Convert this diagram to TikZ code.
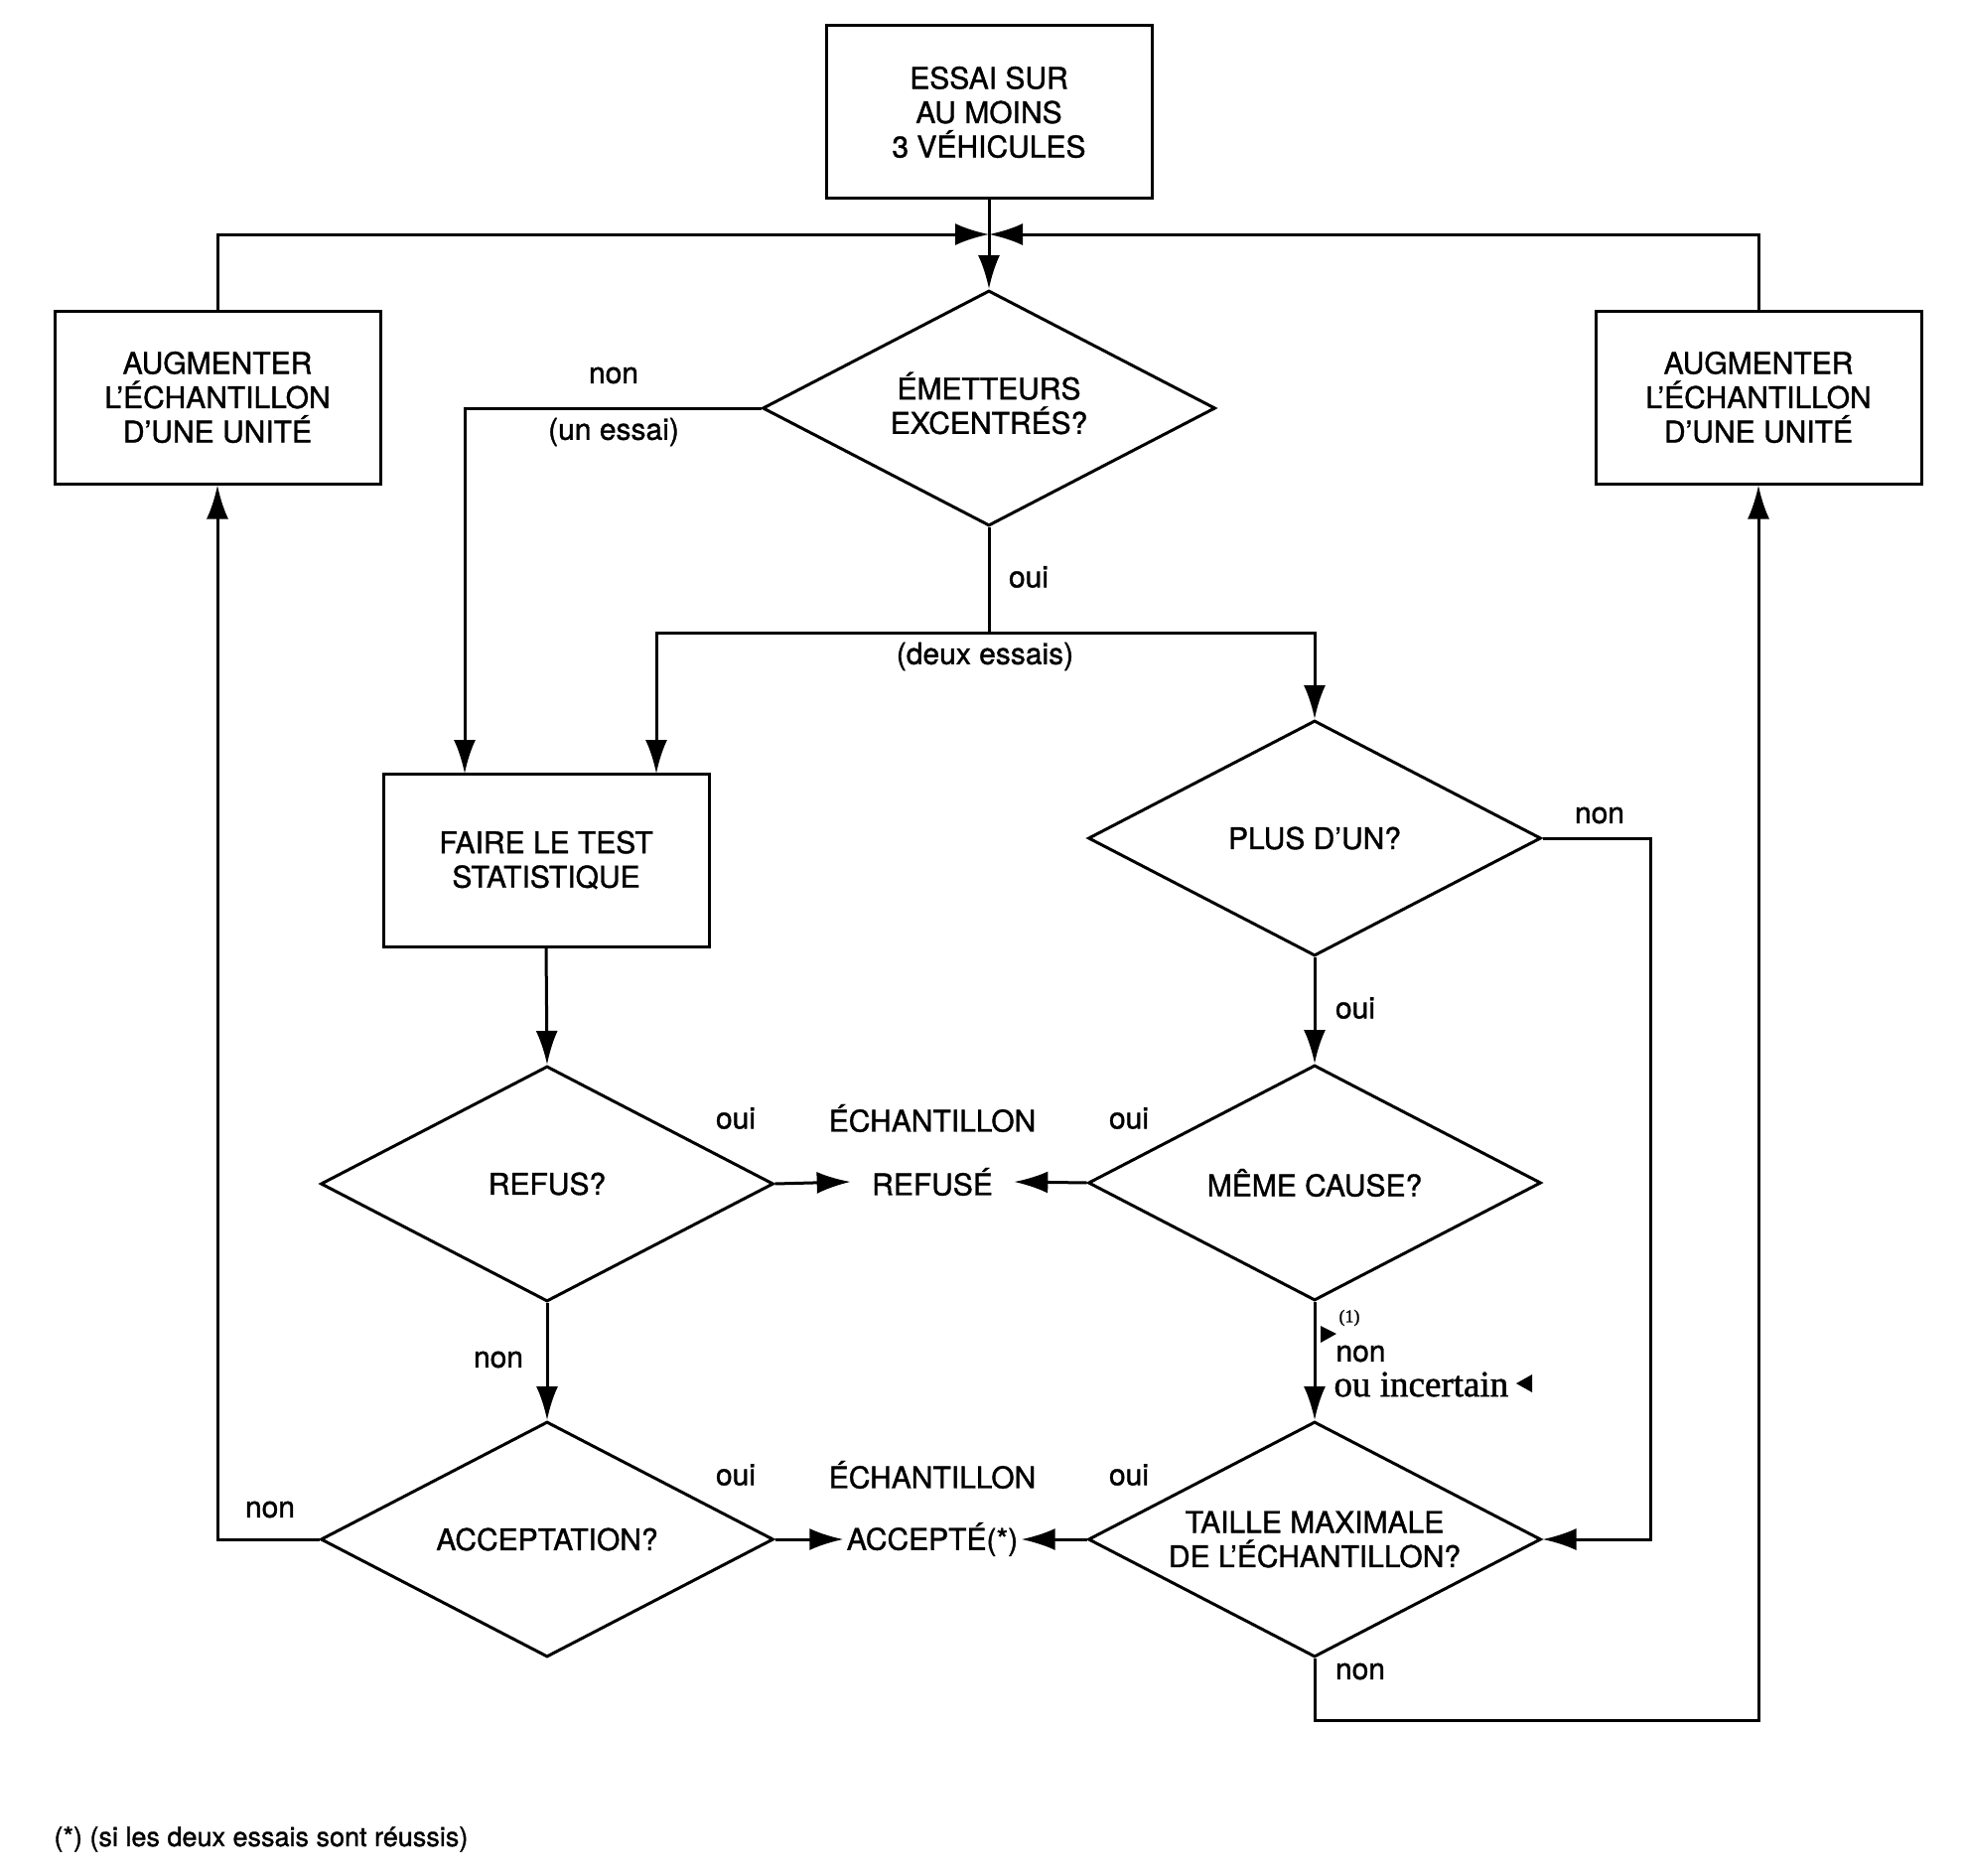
\documentclass[tikz,border=0pt]{standalone}
\usepackage{fontspec}
\setmainfont{TeX Gyre Heros}[FakeBold=1.2]
\newfontfamily\seriffont{Liberation Serif}[FakeBold=1.2]
\usetikzlibrary{shapes.geometric,arrows.meta}
\begin{document}
\begin{tikzpicture}[x=0.5pt,y=-0.5pt, line width=1.5pt,
  every node/.style={font=\fontsize{15}{17.3}\selectfont},
  box/.style={draw, rectangle, minimum width=164pt, minimum height=87pt, align=center, inner sep=0pt},
  dia/.style={draw, diamond, aspect=1.92, minimum width=228pt, minimum height=118.5pt, inner sep=0pt, align=center},
  lbl/.style={inner sep=0pt},
  arr/.style={-{Latex[length=17pt,width=11pt]}},
]
\useasboundingbox (0,0) rectangle (1977,1889);

% boxes
\node[box] (start) at (996,113) {ESSAI SUR\\AU MOINS\\3 VÉHICULES};
\node[box] (augL) at (219,400) {AUGMENTER\\L’ÉCHANTILLON\\D’UNE UNITÉ};
\node[box] (augR) at (1771,400) {AUGMENTER\\L’ÉCHANTILLON\\D’UNE UNITÉ};
\node[box] (test) at (550,866) {FAIRE LE TEST\\STATISTIQUE};

% diamonds
\node[dia] (emet) at (996,411) {};
\node[lbl, align=center] (emettxt) at (996,406) {ÉMETTEURS\\EXCENTRÉS?};
\node[dia] (plus) at (1324,844) {PLUS D’UN?};
\node[dia] (meme) at (1324,1191) {MÊME CAUSE?};
\node[dia] (refus) at (551,1192) {REFUS?};
\node[dia] (accept) at (551,1550) {ACCEPTATION?};
\node[dia] (taille) at (1324,1550) {TAILLE MAXIMALE\\DE L’ÉCHANTILLON?};

% outcomes
\node[lbl] (echR) at (939,1126) {ÉCHANTILLON};
\node[lbl, inner xsep=10pt] (refuse) at (939,1190) {REFUSÉ};
\node[lbl] (echA) at (939,1485) {ÉCHANTILLON};
\node[lbl, inner xsep=1pt] (accepte) at (939,1550) {ACCEPTÉ(*)};

% junction coordinates
\coordinate (J) at (996,236);
\coordinate (split) at (996,637);

% connectors
\draw[arr] (start.south) -- (emet.north);
\draw[arr] (augL.north) |- (J);
\draw[arr] (augR.north) |- (J);
\draw[arr] (emet.west) -| (468,779);
\draw (emet.south) -- (split);
\draw[arr] (split) -| (661,779);
\draw[arr] (split) -| (plus.north);
\draw[arr] (test.south) -- (refus.north);
\draw[arr] (refus.south) -- (accept.north);
\draw[arr] (plus.south) -- (meme.north);
\draw[arr] (meme.south) -- (taille.north);
\draw[arr] (refus.east) -- (refuse.west);
\draw[arr] (meme.west) -- (refuse.east);
\draw[arr] (accept.east) -- (accepte.west);
\draw[arr] (taille.west) -- (accepte.east);
\draw[arr] (accept.west) -| (augL.south);
\draw[arr] (taille.south) -- (1324,1732) -| (augR.south);
\draw[arr] (plus.east) -- (1662,844) |- (taille.east);

% labels
\node[lbl] at (618,378) {non};
\node[lbl] at (618,435) {(un essai)};
\node[lbl] at (1036,581) {oui};
\node[lbl] at (992,661) {(deux essais)};
\node[lbl] at (1611,821) {non};
\node[lbl] at (1365,1015) {oui};
\node[lbl] at (741,1126) {oui};
\node[lbl] at (1137,1126) {oui};
\node[lbl] at (502,1369) {non};
\node[lbl] at (741,1485) {oui};
\node[lbl] at (1137,1485) {oui};
\node[lbl] at (272,1520) {non};
\node[lbl] at (1370,1683) {non};

% annotation (1)
\fill (1330,1335) -- (1330,1352) -- (1346,1343) -- cycle;
\node[lbl, font=\seriffont\fontsize{9}{10}\selectfont] at (1359,1327) {(1)};
\node[lbl, anchor=west] at (1344,1363) {non};
\node[lbl, anchor=west, font=\seriffont\fontsize{18.5}{20}\selectfont] at (1342,1394) {ou incertain};
\fill (1543,1384) -- (1543,1402) -- (1527,1393) -- cycle;

% footnote
\node[lbl, anchor=west, font=\fontsize{13.5}{15}\selectfont] at (53,1852) {(*) (si les deux essais sont réussis)};
\end{tikzpicture}
\end{document}
